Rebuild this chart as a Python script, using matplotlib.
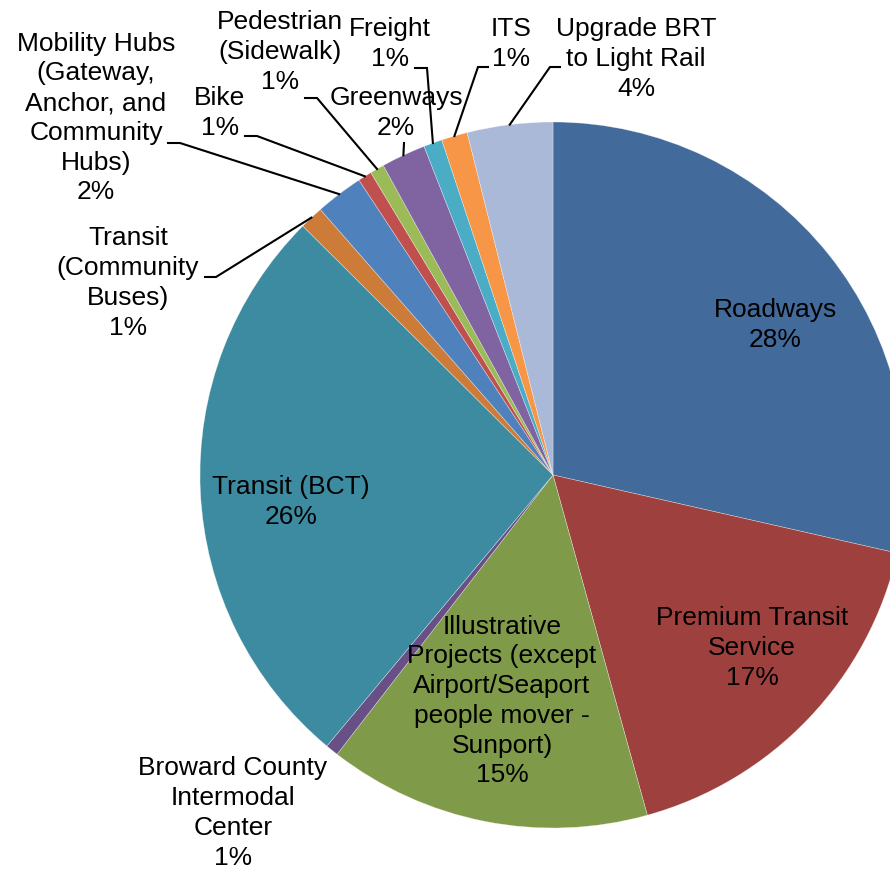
import matplotlib.pyplot as plt
import numpy as np

plt.rcParams['font.family'] = ['Liberation Sans', 'DejaVu Sans']

W, H = 890, 871

names = ["Roadways", "Premium Transit\nService",
         "Illustrative\nProjects (except\nAirport/Seaport\npeople mover -\nSunport)",
         "Broward County\nIntermodal\nCenter", "Transit (BCT)",
         "Transit\n(Community\nBuses)",
         "Mobility Hubs\n(Gateway,\nAnchor, and\nCommunity\nHubs)",
         "Bike", "Pedestrian\n(Sidewalk)", "Greenways", "Freight", "ITS",
         "Upgrade BRT\nto Light Rail"]
shares = [28.55, 17.14, 14.78, 0.59, 26.39, 1.09, 2.19, 0.63, 0.65, 2.03, 0.85, 1.19, 3.91]
pct_text = ["28%", "17%", "15%", "1%", "26%", "1%", "2%", "1%", "1%", "2%", "1%", "1%", "4%"]
colors = ["#426A9B", "#9E413E", "#7F9A48", "#684F85", "#3D8BA1", "#CC7C38",
          "#4F81BD", "#C0504D", "#9BBB59", "#8064A2", "#4BACC6", "#F79646", "#AAB9D7"]

# label centres in pixels (from top-left) and leader stub (start, knee)
label_pos = [(775, 325), (752, 648), (502, 701), (233, 813), (291, 502),
             (128, 283), (96, 118), (220, 113), (280, 52), (396, 113),
             (390, 44), (511, 44), (636, 59)]
leaders = [None, None, None, None, None,
           ((205, 277), (216, 277)),
           ((168, 143), (180, 143)),
           ((245, 136), (257, 136)),
           ((305, 98), (317, 98)),
           ((404, 143), (404, 143)),
           ((415, 68), (427, 68)),
           ((488, 67), (478, 67)),
           ((560, 67), (550, 67))]

cx, cy, r = 553, H - 475, 353

fig = plt.figure(figsize=(W / 100, H / 100), dpi=100)
ax = fig.add_axes([0, 0, 1, 1])
wedges, _ = ax.pie(shares, colors=colors, startangle=90, counterclock=False,
                   radius=r, center=(cx, cy),
                   wedgeprops=dict(linewidth=0.4, edgecolor=(1, 1, 1, 0.5)))
ax.set_xlim(0, W)
ax.set_ylim(0, H)
ax.set_aspect('equal')
ax.axis('off')

for i, w in enumerate(wedges):
    x, y = label_pos[i]
    ax.text(x, H - y, names[i] + "\n" + pct_text[i], ha='center', va='center',
            multialignment='center', fontsize=19, linespacing=1.3, color='black')
    if leaders[i] is not None:
        (sx, sy), (kx, ky) = leaders[i]
        mid = np.deg2rad((w.theta1 + w.theta2) / 2)
        ex, ey = cx + r * np.cos(mid), cy + r * np.sin(mid)
        ax.plot([sx, kx, ex], [H - sy, H - ky, ey], color='black', lw=1.5,
                solid_joinstyle='miter')

fig.savefig("out.png", dpi=100)
